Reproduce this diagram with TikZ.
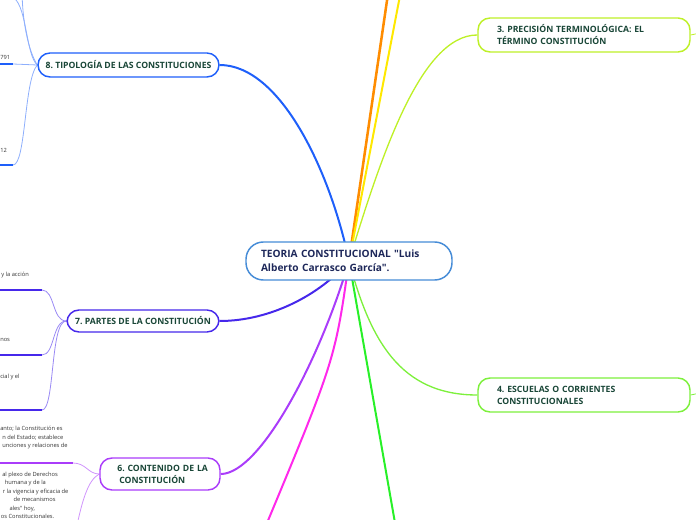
\documentclass[tikz,border=0pt]{standalone}
\usepackage{fontspec}
\setmainfont{Open Sans}[Ligatures=TeXOff]
\frenchspacing
\usetikzlibrary{backgrounds}
\definecolor{navy}{RGB}{30,40,90}
\definecolor{pine}{RGB}{25,70,55}
\definecolor{sky}{RGB}{70,140,215}
\definecolor{tang}{RGB}{255,140,0}
\definecolor{sun}{RGB}{255,232,0}
\definecolor{limeline}{RGB}{190,240,40}
\definecolor{grass}{RGB}{125,240,60}
\definecolor{neon}{RGB}{40,240,40}
\definecolor{pinkline}{RGB}{255,40,235}
\definecolor{violetline}{RGB}{170,60,250}
\definecolor{indigline}{RGB}{70,40,235}
\definecolor{royal}{RGB}{30,95,250}
\tikzset{
  topic/.style={draw=#1,fill=white,line width=1.1pt,rounded corners=9pt,
    font=\fontsize{6.5}{9}\selectfont\bfseries,text=pine,inner ysep=0pt},
  topic/.default=royal,
  branch/.style={line width=1.5pt,draw=#1},
  twig/.style={line width=0.6pt,draw=#1},
  under/.style={line width=1.5pt,draw=#1},
  leaf/.style={font=\fontsize{4.3}{6.4}\selectfont,text=black!80,align=left,
    inner sep=0pt,anchor=west},
}
\begin{document}
\begin{tikzpicture}[x=0.75pt,y=-0.75pt]
  \useasboundingbox (0,0) rectangle (696,520);
  \clip (0,0) rectangle (696,520);
  % central topic
  \node[topic=sky,minimum width=154.5pt,minimum height=28.5pt,text width=132pt,
    align=left,inner xsep=11.25pt,rounded corners=13pt,text=navy,
    font=\fontsize{7.6}{10.5}\selectfont\bfseries] (root) at (349,261)
    {TEORIA CONSTITUCIONAL "Luis\\ Alberto Carrasco García".};
  % main topics
  \node[topic=limeline,minimum width=159pt,minimum height=25.5pt,text width=130.5pt,
    align=left,inner xsep=14.25pt] (prec) at (584,35)
    {3. PRECISIÓN TERMINOLÓGICA: EL\\ TÉRMINO CONSTITUCIÓN};
  \node[topic=grass,minimum width=159pt,minimum height=25.5pt,text width=130.5pt,
    align=left,inner xsep=14.25pt] (esc) at (584,395)
    {4. ESCUELAS O CORRIENTES\\ CONSTITUCIONALES};
  \node[topic=violetline,minimum width=90pt,minimum height=24pt,text width=78pt,
    align=left,inner xsep=6pt] (cont) at (160,474)
    {\hspace*{7pt}6. CONTENIDO DE LA\\ \hspace*{8.5pt}CONSTITUCIÓN};
  \node[topic=indigline,minimum width=114pt,minimum height=16.5pt] (partes) at (143,321)
    {7. PARTES DE LA CONSTITUCIÓN};
  \node[topic=royal,minimum width=135.75pt,minimum height=18pt] (tipo) at (128.5,65)
    {8. TIPOLOGÍA DE LAS CONSTITUCIONES};
  % loose ends
  \coordinate (off1) at (390,-20);
  \coordinate (off2) at (403,-20);
  \coordinate (off5) at (398,540);
  \coordinate (offm) at (262,535);
  \coordinate (s3) at (700,33);
  \coordinate (s4) at (700,393);
  \coordinate (t8a) at (14,-2);
  \coordinate (t8b) at (22,-12);
  \coordinate (t8c) at (13,64);
  \coordinate (t8d) at (13,165);
  \coordinate (t7a) at (42,290);
  \coordinate (t7b) at (42,355);
  \coordinate (t7c) at (42,410);
  \coordinate (t6a) at (73,463);
  \coordinate (t6b) at (75,535);
  % leaf texts
  \node[leaf] (l8a) at (0,57) {791};
  \node[leaf] (l8b) at (0,150) {12};
  \node[leaf] (l7a) at (1,275) {y la acción};
  \node[leaf] (l7b) at (0,340) {nos};
  \node[leaf] (l7c) at (0,377) {cial y el};
  \node[leaf] (l6a) at (0,437.5) {anto; la Constitución es\\
    \hspace*{1.5pt}n del Estado; establece\\
    \hspace*{1.5pt}unciones y relaciones de};
  \node[leaf] (l6b) at (0,495.5) {\hspace*{1.5pt}al plexo de Derechos\\
    \hspace*{3.5pt}humana y de la\\
    \hspace*{2pt}r la vigencia y eficacia de\\
    \hspace*{10pt}de mecanismos\\
    \hspace*{7pt}ales" hoy,\\
    \hspace*{0.5pt}os Constitucionales.};
  \begin{scope}[on background layer]
    \draw[branch=tang,line width=1.9pt] (root.center) -- (off1);
    \draw[branch=sun] (root.center) -- (off2);
    \draw[branch=limeline,line width=1pt] (root.center) .. controls (380,160) and (420,35) .. (prec.west);
    \draw[branch=grass,line width=1pt] (root.center) .. controls (370,340) and (400,395) .. (esc.west);
    \draw[branch=neon] (root.center) -- (off5);
    \draw[branch=pinkline] (root.center) .. controls (335,360) .. (offm);
    \draw[branch=violetline] (root.center) .. controls (320,360) and (260,474) .. (cont.east);
    \draw[branch=indigline] (root.center) .. controls (320,295) and (270,321) .. (partes.east);
    \draw[branch=royal] (root.center) .. controls (330,170) and (280,65) .. (tipo.east);
    \draw[twig=limeline] (prec.east) -- (s3);
    \draw[twig=grass] (esc.east) -- (s4);
    % children of 8
    \draw[twig=royal!50] (tipo.west) .. controls (26,55) and (27,8) .. (t8a);
    \draw[twig=royal!50] (tipo.west) .. controls (28,50) and (22,20) .. (t8b);
    \draw[twig=royal!50] (tipo.west) -- (t8c);
    \draw[twig=royal!50] (tipo.west) .. controls (24,80) and (26,165) .. (t8d);
    \draw[under=royal] (t8c) -- ++(-16,0);
    \draw[under=royal] (t8d) -- ++(-16,0);
    % children of 7
    \draw[twig=indigline!55] (partes.west) .. controls (52,321) and (55,290) .. (t7a);
    \draw[twig=indigline!55] (partes.west) .. controls (52,321) and (55,355) .. (t7b);
    \draw[twig=indigline!55] (partes.west) .. controls (50,321) and (55,410) .. (t7c);
    \draw[under=indigline] (t7a) -- ++(-45,0);
    \draw[under=indigline] (t7b) -- ++(-45,0);
    \draw[under=indigline] (t7c) -- ++(-45,0);
    % children of 6
    \draw[twig=violetline!55] (cont.west) .. controls (88,474) and (86,463) .. (t6a);
    \draw[twig=violetline!55] (cont.west) .. controls (88,480) and (82,500) .. (t6b);
    \draw[under=violetline] (t6a) -- ++(-76,0);
  \end{scope}
\end{tikzpicture}
\end{document}
